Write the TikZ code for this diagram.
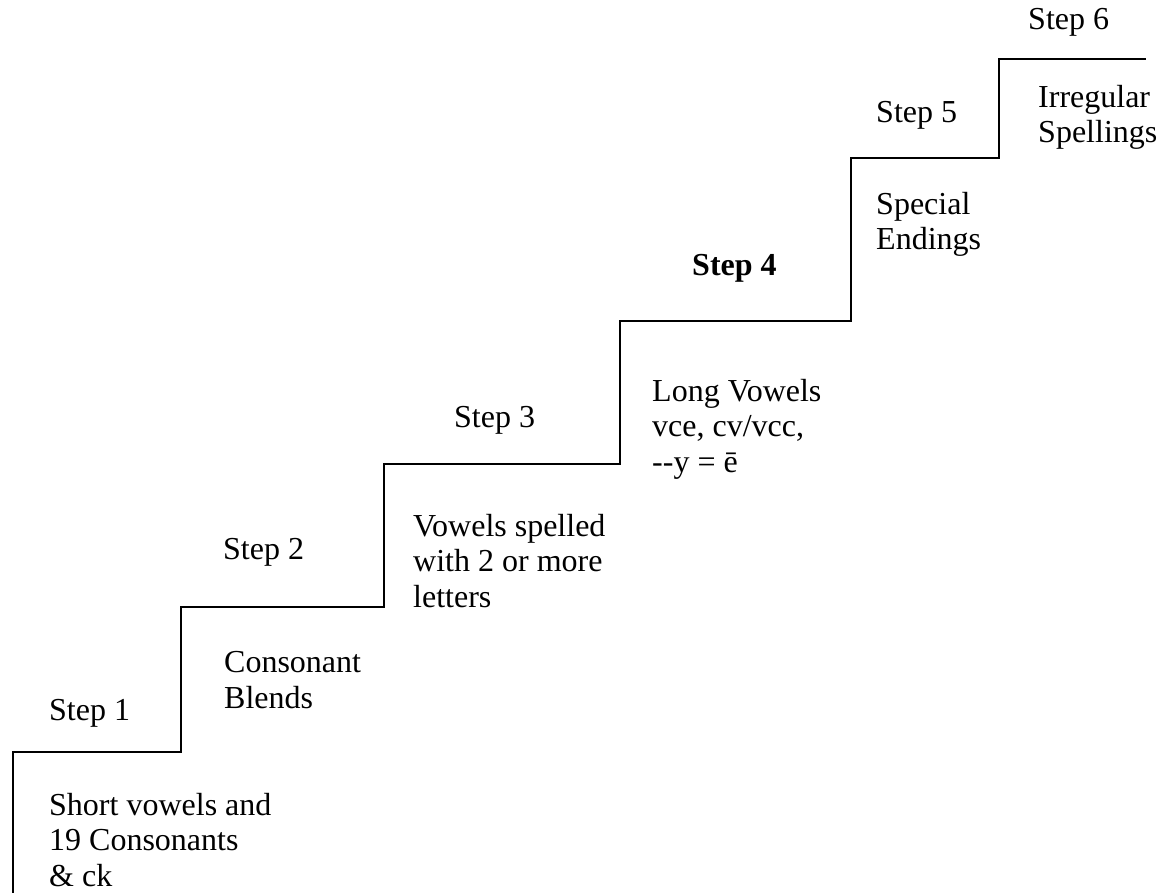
\documentclass[tikz,border=0pt]{standalone}
\usepackage{fontspec}
\setmainfont{Liberation Serif}
\tikzset{
  lbl/.style={anchor=base west, inner sep=0pt, align=left, font=\fontsize{32}{35.5}\selectfont},
  stair/.style={draw=black, line width=2pt, line join=miter}
}
\begin{document}
\begin{tikzpicture}[x=1pt,y=-1pt]
\useasboundingbox[fill=white] (0,0) rectangle (1161,893);
\coordinate (s0) at (13,893);
\coordinate (s1) at (13,752);
\coordinate (s2) at (181,752);
\coordinate (s3) at (181,607);
\coordinate (s4) at (384,607);
\coordinate (s5) at (384,464);
\coordinate (s6) at (620,464);
\coordinate (s7) at (620,321);
\coordinate (s8) at (851,321);
\coordinate (s9) at (851,158);
\coordinate (s10) at (999,158);
\coordinate (s11) at (999,59);
\coordinate (s12) at (1146,59);
\draw[stair] (s0) -- (s1) -- (s2) -- (s3) -- (s4) -- (s5) -- (s6) -- (s7) -- (s8) -- (s9) -- (s10) -- (s11) -- (s12);

\node[lbl] (st1) at (49,720) {Step 1};
\node[lbl] (d1) at (49,886) {Short vowels and\\19 Consonants\\\& ck};
\node[lbl] (st2) at (223,559) {Step 2};
\node[lbl] (d2) at (224,708) {Consonant\\Blends};
\node[lbl] (st3) at (454,427) {Step 3};
\node[lbl] (d3) at (413,607) {Vowels spelled\\with 2 or more\\letters};
\node[lbl, font=\fontsize{32}{35.5}\selectfont\bfseries] (st4) at (692,276) {Step 4};
\node[lbl] (d4) at (652,472) {Long Vowels\\vce, cv/vcc,\\-{}-y = ē};
\node[lbl] (st5) at (876,123) {Step 5};
\node[lbl] (d5) at (876,250) {Special\\Endings};
\node[lbl] (st6) at (1028,30) {Step 6};
\node[lbl] (d6) at (1038,143) {Irregular\\Spellings};
\end{tikzpicture}
\end{document}
